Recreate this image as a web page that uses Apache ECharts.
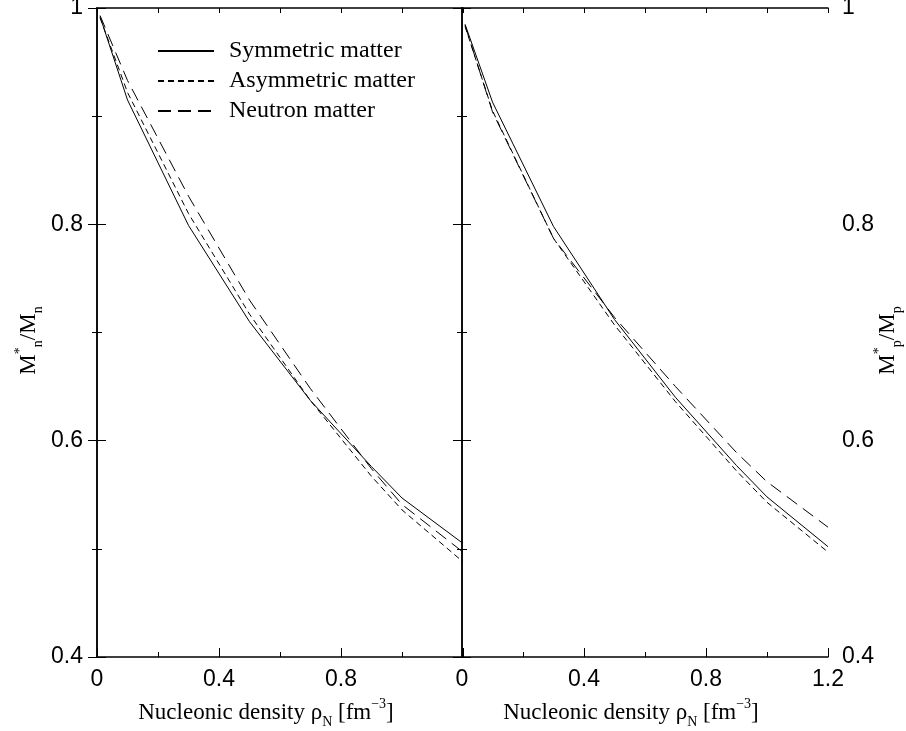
<!DOCTYPE html>
<html>
<head>
<meta charset="utf-8">
<script src="https://cdn.jsdelivr.net/npm/echarts@6/dist/echarts.min.js"></script>
<style>html,body{margin:0;padding:0;background:#fff;overflow:hidden;width:906px;height:731px;}#c{width:906px;height:731px;overflow:hidden;}</style>
</head>
<body>
<div id="c"></div>
<script>
// Density values (fm^-3)
const density = [0.01, 0.1, 0.3, 0.5, 0.7, 0.9, 1.0, 1.2];
// Neutron effective mass ratio M*n/Mn (left panel)
const neutronSym  = [0.992, 0.915, 0.799, 0.710, 0.637, 0.576, 0.547, 0.505];
const neutronAsym = [0.991, 0.922, 0.810, 0.717, 0.637, 0.567, 0.536, 0.488];
const neutronNeut = [0.993, 0.933, 0.826, 0.730, 0.648, 0.574, 0.541, 0.497];
// Proton effective mass ratio M*p/Mp (right panel)
const protonSym  = [0.985, 0.913, 0.798, 0.712, 0.640, 0.577, 0.548, 0.502];
const protonAsym = [0.983, 0.905, 0.787, 0.707, 0.636, 0.572, 0.543, 0.497];
const protonNeut = [0.984, 0.904, 0.787, 0.714, 0.650, 0.589, 0.562, 0.520];
const seriesNames = ['Symmetric matter', 'Asymmetric matter', 'Neutron matter'];
const xTicks = [0, 0.4, 0.8, 1.2];
const yTicks = [0.4, 0.6, 0.8, 1];

const pair = (ys) => density.map((x, i) => [x, ys[i]]);
const dashTypes = ['solid', [6, 4], [13, 7]];
const sans = 'Liberation Sans';
const serif = 'Liberation Serif';
const black = '#000';

const richName = {
  m: {fontFamily: serif, fontSize: 23, color: black, lineHeight: 32, verticalAlign: 'middle'},
  sup: {fontFamily: serif, fontSize: 14, color: black, lineHeight: 14, verticalAlign: 'top'},
  sub: {fontFamily: serif, fontSize: 14, color: black, lineHeight: 14, verticalAlign: 'bottom'}
};

function xAx(gridIndex, showLabels, hideLast) {
  return {
    type: 'value', gridIndex, position: 'bottom', min: 0, max: 1.2, interval: 0.4,
    axisLine: {show: true, lineStyle: {color: black, width: 1.5}},
    axisTick: {show: true, inside: true, length: 9, lineStyle: {color: black, width: 1}},
    minorTick: {show: true, splitNumber: 2, length: 5, lineStyle: {color: black, width: 1}},
    splitLine: {show: false},
    axisLabel: {
      show: showLabels, margin: 11, fontFamily: sans, fontSize: 23, color: black,
      formatter: (v) => (hideLast && Math.abs(v - 1.2) < 1e-9) ? '' : String(+v.toFixed(1))
    },
    name: '{m|Nucleonic density ρ}{sub|N}{m| [fm}{sup|−3}{m|]}',
    nameLocation: 'middle', nameGap: 40, nameMoveOverlap: false,
    nameTextStyle: {rich: richName, padding: [0, 28, 0, 0]}
  };
}
function xTop(gridIndex) {
  return {
    type: 'value', gridIndex, position: 'top', min: 0, max: 1.2, interval: 0.2,
    axisLine: {show: true, lineStyle: {color: black, width: 1.5}},
    axisTick: {show: true, inside: true, length: 5, lineStyle: {color: black, width: 1}},
    splitLine: {show: false}, axisLabel: {show: false}
  };
}
function yAx(gridIndex, position, showLabels, nameStr, gap) {
  const o = {
    type: 'value', gridIndex, position, min: 0.4, max: 1, interval: 0.2,
    axisLine: {show: true, lineStyle: {color: black, width: 1.5}},
    axisTick: {show: true, inside: true, length: 9, lineStyle: {color: black, width: 1}},
    minorTick: {show: true, splitNumber: 2, length: 5, lineStyle: {color: black, width: 1}},
    splitLine: {show: false},
    axisLabel: {show: showLabels, margin: 14, fontFamily: sans, fontSize: 23, color: black,
      formatter: (v) => String(+v.toFixed(1))}
  };
  if (nameStr) {
    o.name = nameStr;
    o.nameLocation = 'middle';
    o.nameRotate = 90;
    o.nameGap = gap;
    o.nameMoveOverlap = false;
    o.nameTextStyle = {rich: richName, padding: [0, 16, 0, 0]};
  }
  return o;
}

const series = [];
const leftData = [neutronSym, neutronAsym, neutronNeut];
const rightData = [protonSym, protonAsym, protonNeut];
for (let k = 0; k < 3; k++) {
  series.push({
    name: seriesNames[k], type: 'line', xAxisIndex: 0, yAxisIndex: 0,
    data: pair(leftData[k]), symbol: 'none', showSymbol: false, smooth: false,
    lineStyle: {color: black, width: 1, type: dashTypes[k]}, itemStyle: {color: black}
  });
  series.push({
    name: seriesNames[k], type: 'line', xAxisIndex: 1, yAxisIndex: 1,
    data: pair(rightData[k]), symbol: 'none', showSymbol: false, smooth: false,
    lineStyle: {color: black, width: 1, type: dashTypes[k]}, itemStyle: {color: black}
  });
}

const chart = echarts.init(document.getElementById('c'), null, {renderer: 'canvas', width: 906, height: 731});
chart.setOption({
  animation: false,
  backgroundColor: '#fff',
  grid: [
    {left: 97, top: 8, width: 366, height: 649, containLabel: false, outerBoundsMode: 'none'},
    {left: 462, top: 8, width: 366, height: 649, containLabel: false, outerBoundsMode: 'none'}
  ],
  xAxis: [xAx(0, true, true), xAx(1, true, false), xTop(0), xTop(1)],
  yAxis: [
    yAx(0, 'left', true, '{m|M}{sup|*}{sub|n}{m|/M}{sub|n}', 52),
    yAx(1, 'right', true, '{m|M}{sup|*}{sub|p}{m|/M}{sub|p}', 44),
    yAx(0, 'right', false, null),
    yAx(1, 'left', false, null)
  ],
  legend: {
    data: seriesNames, orient: 'vertical', left: 157, top: 39, padding: 0,
    itemWidth: 56, itemHeight: 14, itemGap: 6,
    itemStyle: {opacity: 0},
    textStyle: {fontFamily: serif, fontSize: 24, color: black, padding: [0, 0, 0, 10]},
    selectedMode: false
  },
  series
});
</script>
</body>
</html>
